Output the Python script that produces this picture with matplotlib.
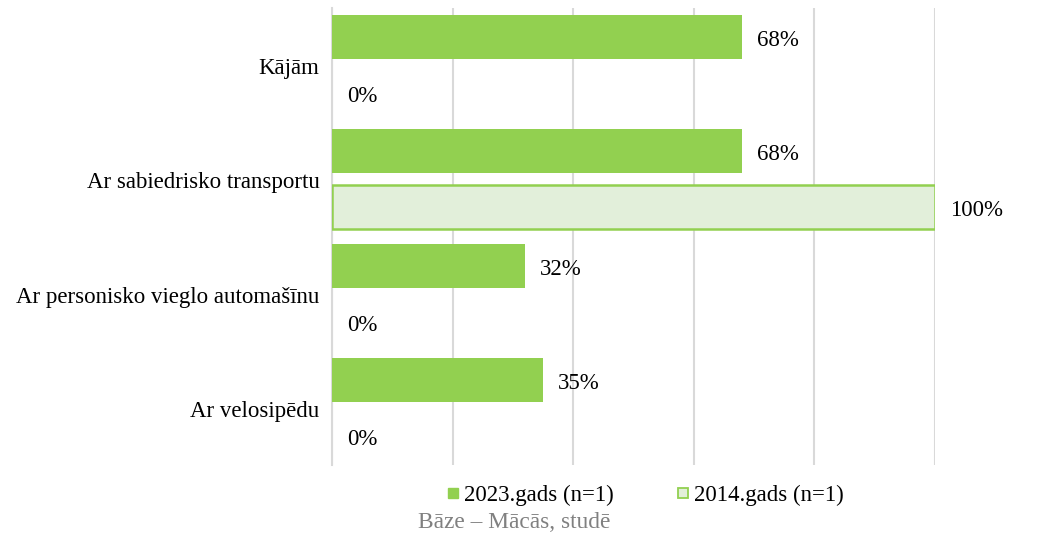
import numpy as np
import matplotlib.pyplot as plt
import matplotlib.transforms as mtransforms
from matplotlib.lines import Line2D

plt.rcParams['font.family'] = ['Liberation Serif', 'DejaVu Serif']

categories = ['Kājām', 'Ar sabiedrisko transportu',
              'Ar personisko vieglo automašīnu', 'Ar velosipēdu']
vals_2023 = [68, 68, 32, 35]
vals_2014 = [0, 100, 0, 0]
series_names = ['2023.gads (n=1)', '2014.gads (n=1)']
base_note = 'Bāze – Mācās, studē'

green = '#92D050'
light = '#E2EFDA'
grid_col = '#D9D9D9'
fs = 16.5

fig = plt.figure(figsize=(10.46, 5.35), dpi=100)
ax = fig.add_axes([332 / 1046, 1 - 465 / 535, (935 - 332) / 1046, (465 - 8) / 535])

y = np.arange(len(categories))
h = 0.385
off = 0.245

ax.barh(y - off, vals_2023, height=h, color=green, zorder=3)
# empty bars get no outline
edge_w = [1.8 if v > 0 else 0 for v in vals_2014]
ax.barh(y + off, vals_2014, height=h, color=light, edgecolor=green,
        linewidth=edge_w, zorder=3)

# nudge text a few pixels down
shift = mtransforms.ScaledTranslation(0, -3.5 / 100, fig.dpi_scale_trans)

for yi, v in zip(y, vals_2023):
    ax.text(v + 2.5, yi - off, f'{v}%', va='center', ha='left', fontsize=fs,
            transform=ax.transData + shift)
for yi, v in zip(y, vals_2014):
    ax.text(v + 2.5, yi + off, f'{v}%', va='center', ha='left', fontsize=fs,
            transform=ax.transData + shift)

ax.set_xlim(0, 100)
ax.set_ylim(3.5, -0.5)
ax.set_xticks(np.arange(0, 101, 20))
ax.set_xticklabels([])
ax.tick_params(axis='x', length=0)
ax.tick_params(axis='y', length=0, pad=9, labelsize=fs)
ax.set_yticks(y)
ax.set_yticklabels(categories, va='center')
for lbl in ax.get_yticklabels():
    lbl.set_transform(lbl.get_transform() + shift)
ax.grid(axis='x', color=grid_col, linewidth=1.5, zorder=0)

for s in ['top', 'right', 'bottom']:
    ax.spines[s].set_visible(False)
ax.spines['left'].set_color(grid_col)
ax.spines['left'].set_linewidth(1.5)

handles = [Line2D([], [], marker='s', linestyle='none', markersize=7.2,
                  markerfacecolor=green, markeredgecolor=green, markeredgewidth=1),
           Line2D([], [], marker='s', linestyle='none', markersize=7.2,
                  markerfacecolor=light, markeredgecolor=green, markeredgewidth=1.3)]
fig.legend(handles, series_names, loc='center', bbox_to_anchor=(646 / 1046, 1 - 495 / 535),
           ncol=2, frameon=False, fontsize=fs, handlelength=0.45,
           handletextpad=0.25, columnspacing=2.8)

fig.text(418 / 1046, 1 - 523 / 535, base_note, color='#808080', fontsize=16.8,
         ha='left', va='center')

fig.savefig('out.png', dpi=100)
